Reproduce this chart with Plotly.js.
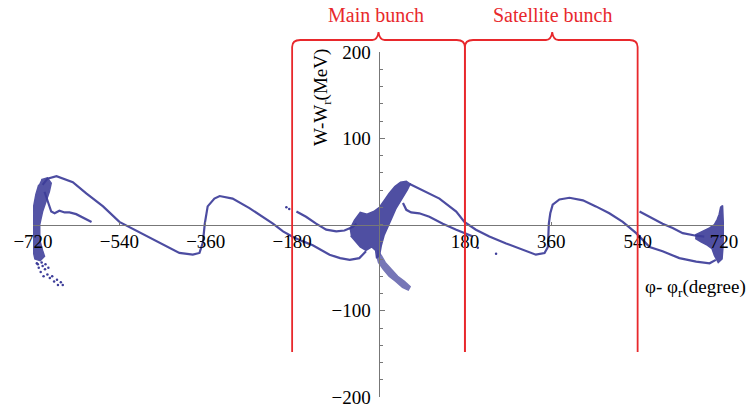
<!DOCTYPE html>
<html><head><meta charset="utf-8">
<script src="https://cdn.plot.ly/plotly-3.0.1.min.js"></script>
<style>html,body{margin:0;padding:0;background:#fff}#chart{width:753px;height:411px}</style>
</head><body><div id="chart"></div>
<script>
// ---- data (phase in degrees, energy in MeV) ----
const arcLeftX  = [-700,-690,-671,-637,-609,-574,-540,-498,-470,-456,-415,-387,-373,-366,-362,-356,-342,-331,-304,-269,-245,-220,-199,-180,-160,-137,-102,-80,-60,-40,-26];
const arcLeftY  = [46,53,56,49,36,21,3,-9,-17,-21,-33,-35,-33,-21,1,21,30,33,30,19,10,1,-8,-14,-19,-24,-35,-39,-41,-39,-31];
const innerLeftX = [-696,-689,-682,-675,-665,-654,-644,-630,-616,-598];
const innerLeftY = [38,25,15,13,16,14,14,12,8,3];
const mainUpperX = [-171,-151,-130,-109,-88,-71,-54,-46];
const mainUpperY = [15,9,1,-6,-8,-7,-3,1];
const rightArcX = [65,92,127,162,179,203,231,266,300,328,346,353,355,358,363,377,398,426,453,481,509,537,565,592,627,662,690,703];
const rightArcY = [47,40,30,15,3,-6,-14,-22,-29,-35,-33,-26,1,13,23,29,31,28,21,13,3,-10,-26,-31,-39,-43,-45,-41];
const innerRightX = [51,58,68,85,106,134,162,183,197];
const innerRightY = [25,17,14,13,9,1,-6,-11,-14];
const satUpperX = [544,565,592,613,634,662,679];
const satUpperY = [15,9,1,-4,-10,-13,-14];

const bandLeftX = [-703,-690,-682,-686,-692,-700,-706,-706,-700,-696,-705,-716,-720,-721,-719,-714,-708];
const bandLeftY = [52,54,48,38,28,15,0,-18,-30,-37,-42,-40,-30,0,20,35,46];
const tailLeftX = [-712,-708,-700,-704,-695,-690,-698,-685,-680,-676,-670,-668,-662,-658,-688,-694,-710,-702];
const tailLeftY = [-45,-50,-48,-55,-52,-58,-60,-62,-60,-66,-64,-70,-67,-70,-50,-46,-46,-44];
const blobMainX = [-60,-50,-38,-24,-10,2,12,22,34,46,58,66,60,52,44,36,28,20,12,6,2,-4,-6,-14,-26,-38,-48,-58];
const blobMainY = [-6,5,14,12,15,20,28,36,44,49,50,47,40,33,26,18,8,-2,-12,-24,-36,-39,-30,-26,-30,-26,-20,-13];
const armLowX = [-2,6,14,26,40,54,66,62,50,36,22,10,0,-4];
const armLowY = [-30,-36,-44,-52,-60,-66,-72,-76,-73,-66,-60,-52,-44,-36];
const blobRightX = [660,675,690,700,706,710,713,717,718,719,718,716,708,700,695,685,672,660];
const blobRightY = [-12,-8,-4,0,6,12,20,22,10,-5,-25,-40,-44,-36,-28,-24,-20,-16];
const dotsX = [-192,-186,207,245];
const dotsY = [20,18,-27,-34];

const xTicks = [-720,-540,-360,-180,180,360,540,720];
const yTicks = [-200,-100,100,200];

// ---- styling ----
const BLUE = '#3d3d99';
const RED = '#e8282c';
const line = (x, y) => ({x, y, type:'scatter', mode:'lines', line:{color:BLUE, width:2.2}, opacity:0.92, hoverinfo:'skip'});
const blob = (x, y, op) => ({x, y, type:'scatter', mode:'lines', fill:'toself', fillcolor:BLUE, opacity:op, line:{color:BLUE, width:1.5}, hoverinfo:'skip'});

const data = [
  line(arcLeftX, arcLeftY), line(innerLeftX, innerLeftY), line(mainUpperX, mainUpperY),
  line(rightArcX, rightArcY), line(innerRightX, innerRightY), line(satUpperX, satUpperY),
  blob(bandLeftX, bandLeftY, 0.88), blob(blobMainX, blobMainY, 0.9), blob(armLowX, armLowY, 0.7), blob(blobRightX, blobRightY, 0.9),
  {x:tailLeftX, y:tailLeftY, type:'scatter', mode:'markers', marker:{color:BLUE, size:2.5}, hoverinfo:'skip'},
  {x:dotsX, y:dotsY, type:'scatter', mode:'markers', marker:{color:BLUE, size:2.5}, hoverinfo:'skip'}
];

// paper y from pixel row (plot area top 52, height 345)
const py = p => (397 - p) / 345;
const yTop = py(40), yCorner = py(47), yTip = py(32), yBot = py(352);
function brace(x0, xm, x1){
  const r = 17, t = 13;
  return `M ${x0},${yBot} L ${x0},${yCorner} Q ${x0},${yTop} ${x0+r},${yTop} L ${xm-t},${yTop} Q ${xm-2},${yTop} ${xm},${yTip} Q ${xm+2},${yTop} ${xm+t},${yTop} L ${x1-r},${yTop} Q ${x1},${yTop} ${x1},${yCorner} L ${x1},${yBot}`;
}

const font = {family:'"Liberation Serif", "Times New Roman", serif', size:19, color:'#000'};
const ann = (o) => Object.assign({showarrow:false, xanchor:'center', yanchor:'middle'}, o);
const layout = {
  width:753, height:411,
  margin:{l:33, r:29, t:52, b:14},
  paper_bgcolor:'#fff', plot_bgcolor:'#fff',
  showlegend:false,
  font:font,
  xaxis:{range:[-720,720], anchor:'free', position:0.5, showgrid:false, zeroline:false,
         showline:true, linecolor:'#777', linewidth:1,
         tickmode:'array', tickvals:xTicks, ticks:'inside', ticklen:3, tickcolor:'#777',
         tickfont:font},
  yaxis:{range:[-200,200], anchor:'free', position:0.5, showgrid:false, zeroline:false,
         showline:true, linecolor:'#777', linewidth:1,
         tickmode:'array', tickvals:yTicks, ticks:'inside', ticklen:5, tickcolor:'#777',
         minor:{dtick:20, ticks:'inside', ticklen:3, tickcolor:'#777', showgrid:false},
         ticklabelstandoff:4, tickfont:font},
  shapes:[
    {type:'path', xref:'x', yref:'paper', path:brace(-180,0,180), line:{color:RED, width:1.8}, layer:'above'},
    {type:'path', xref:'x', yref:'paper', path:brace(180,362,540), line:{color:RED, width:1.8}, layer:'above'}
  ],
  annotations:[
    ann({text:'Main bunch', xref:'x', yref:'paper', x:-5, y:py(15), font:{...font, size:20, color:RED}}),
    ann({text:'Satellite bunch', xref:'x', yref:'paper', x:362, y:py(15), font:{...font, size:20, color:RED}}),
    ann({text:'W-W<sub>r</sub>(MeV)', xref:'paper', yref:'paper', x:(322-33)/691, y:py(98), textangle:-90, font:font}),
    ann({text:'φ- φ<sub>r</sub>(degree)', xref:'paper', yref:'paper', x:(695-33)/691, y:py(288), font:font})
  ]
};
Plotly.newPlot('chart', data, layout, {displayModeBar:false, staticPlot:true});
</script></body></html>
